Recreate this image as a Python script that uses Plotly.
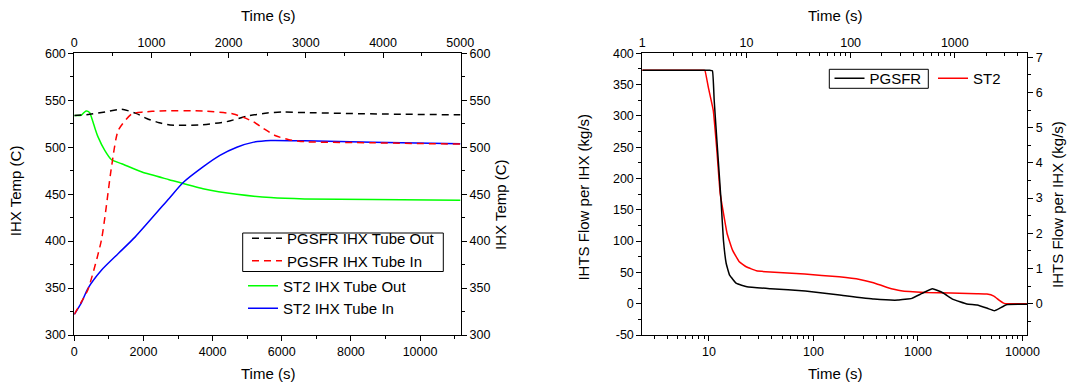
import plotly.graph_objects as go

FONT = "Liberation Sans, Arial, sans-serif"

# ---------------- Left panel: IHX temperatures ----------------
# PGSFR curves use the top time axis (0-5000 s)
pg_out_time = [0, 200, 400, 614, 800, 938, 1100, 1240, 1628, 1974, 2234, 2500, 2700, 3000, 4000, 5000]
pg_out_temp = [533.7, 535, 537.5, 540.4, 536, 530.6, 526, 523.7, 523.7, 527.2, 533, 536.5, 537.5, 536.8, 535.3, 534.5]

pg_in_time = [0, 83, 175, 351, 482, 570, 743, 894, 1110, 1671, 2060, 2319, 2450, 2600, 2780, 3000, 3860, 5000]
pg_in_temp = [322, 334, 348, 401, 479, 518, 535.4, 537.5, 538.6, 538.6, 535.4, 527.2, 520, 512.5, 508, 505.8, 504.7, 503.3]

# ST2 curves use the bottom time axis (0-11000 s)
st2_out_time = [0, 196, 338, 441, 539, 599, 686, 881, 1077, 1371, 1959, 2742, 3722, 4701, 5681, 6660, 8619, 11165]
st2_out_temp = [533.7, 534, 538.6, 537, 527, 520, 511, 496.6, 486.6, 482.4, 473.5, 465.4, 455.8, 449.8, 446.3, 444.9, 444.2, 443.5]

st2_in_time = [0, 196, 392, 784, 1273, 1763, 2742, 3134, 3722, 4211, 4701, 5191, 5681, 6660, 8619, 11165]
st2_in_temp = [322, 333.6, 349.5, 369, 386.8, 404.5, 445.5, 461.9, 479, 491.3, 500, 505.4, 507.2, 506.8, 505.4, 503.7]

temp_ticks = [300, 350, 400, 450, 500, 550, 600]
bottom_left_ticks = [0, 2000, 4000, 6000, 8000, 10000]
bottom_left_labels = ["0", "2000", "4000", "6000", "8000", "10000"]
top_left_ticks = [0, 1000, 2000, 3000, 4000, 5000]
top_left_labels = ["0", "1000", "2000", "3000", "4000", "5000"]

# ---------------- Right panel: IHTS flow ----------------
# PGSFR flow (kg/s, left axis) vs top log time axis
pg_flow_time = [1, 4.2, 4.43, 4.71, 4.9, 5.28, 5.7, 6.01, 6.39, 6.89, 8.02, 10.1, 17.1, 36.7, 78.4, 167.6,
                285, 387, 486, 610, 766, 962, 1305, 1640, 2057, 2397, 2686, 3126, 4968]
pg_flow = [373, 373, 373, 372, 324.6, 244.9, 165, 101.4, 64.2, 45.6, 32.3, 27, 23.9, 20.2, 13.8, 7.4,
           5.8, 8.5, 16.5, 23.9, 17.5, 6.9, -0.5, -2.1, -7.4, -11.2, -7.4, -1.6, -1]

# ST2 flow (kg/s, right axis) vs bottom log time axis
st2_flow_time = [2.26, 8.7, 9.13, 9.85, 11.0, 11.9, 12.8, 13.6, 14.9, 16.8, 19.5, 22.7, 28.5, 38.5, 82.3,
                 176, 277, 375, 508, 688, 1169, 3646, 4571, 5320, 5966, 6687, 11020]
st2_flow = [6.631, 6.631, 6.631, 6.148, 5.486, 4.354, 3.125, 2.654, 1.993, 1.52, 1.191, 1.049, 0.935, 0.898, 0.841,
            0.764, 0.69, 0.596, 0.462, 0.368, 0.32, 0.283, 0.274, 0.217, 0.103, 0.009, 0.0]

flow_ticks = [-50, 0, 50, 100, 150, 200, 250, 300, 350, 400]
flow_tick_labels = ["-50", "0", "50", "100", "150", "200", "250", "300", "350", "400"]
st2_flow_ticks = [0, 1, 2, 3, 4, 5, 6, 7]
bottom_log_ticks = [10, 100, 1000, 10000]
bottom_log_labels = ["10", "100", "1000", "10000"]
top_log_ticks = [1, 10, 100, 1000]
top_log_labels = ["1", "10", "100", "1000"]

W, H = 1070, 385


def px_x(v):
    return v / W


def px_y(v):
    return 1 - v / H


L_DOM = [px_x(74.3), px_x(461)]
R_DOM = [px_x(642.3), px_x(1027.3)]
Y_DOM = [px_y(335), px_y(53.3)]

tickfont = dict(family=FONT, size=12.5, color="black")
line_w = 1.5
dash = "7px,5px"

fig = go.Figure()

fig.add_trace(go.Scatter(x=pg_out_time, y=pg_out_temp, xaxis="x2", yaxis="y", mode="lines",
                         name="PGSFR IHX Tube Out", legend="legend",
                         line=dict(color="black", width=line_w, dash=dash, shape="spline", smoothing=0.6)))
fig.add_trace(go.Scatter(x=pg_in_time, y=pg_in_temp, xaxis="x2", yaxis="y", mode="lines",
                         name="PGSFR IHX Tube In", legend="legend",
                         line=dict(color="#ff0000", width=line_w, dash=dash, shape="spline", smoothing=0.6)))
fig.add_trace(go.Scatter(x=st2_out_time, y=st2_out_temp, xaxis="x", yaxis="y2", mode="lines",
                         name="ST2 IHX Tube Out", legend="legend2",
                         line=dict(color="#00ff00", width=line_w, shape="spline", smoothing=0.6)))
fig.add_trace(go.Scatter(x=st2_in_time, y=st2_in_temp, xaxis="x", yaxis="y2", mode="lines",
                         name="ST2 IHX Tube In", legend="legend2",
                         line=dict(color="#0000ff", width=line_w, shape="spline", smoothing=0.6)))

fig.add_trace(go.Scatter(x=pg_flow_time, y=pg_flow, xaxis="x4", yaxis="y3", mode="lines",
                         name="PGSFR", legend="legend3",
                         line=dict(color="black", width=line_w, shape="spline", smoothing=0.3)))
fig.add_trace(go.Scatter(x=st2_flow_time, y=st2_flow, xaxis="x3", yaxis="y4", mode="lines",
                         name="ST2", legend="legend4",
                         line=dict(color="#ff0000", width=line_w, shape="spline", smoothing=0.3)))

common = dict(showgrid=False, zeroline=False, showline=True, linecolor="black", linewidth=1,
              tickfont=tickfont, tickcolor="black", ticklen=5, tickwidth=1, automargin=False)

legfont = dict(family=FONT, size=15, color="black")

fig.update_layout(
    width=W, height=H,
    margin=dict(l=0, r=0, t=0, b=0),
    paper_bgcolor="white", plot_bgcolor="rgba(0,0,0,0)",
    showlegend=True,
    xaxis=dict(domain=L_DOM, anchor="y", range=[0, 11185], tickmode="array", tickvals=bottom_left_ticks,
               ticktext=bottom_left_labels, ticks="outside",
               minor=dict(tickmode="linear", tick0=0, dtick=1000, ticks="outside", ticklen=3, tickcolor="black"),
               **common),
    xaxis2=dict(overlaying="x", side="top", anchor="y", range=[0, 5010], tickmode="array",
                tickvals=top_left_ticks, ticktext=top_left_labels, ticks="inside",
                minor=dict(tickmode="linear", tick0=0, dtick=500, ticks="inside", ticklen=3, tickcolor="black"),
                **common),
    yaxis=dict(domain=Y_DOM, anchor="x", range=[300, 600], tickmode="array", tickvals=temp_ticks,
               ticks="outside",
               minor=dict(tickmode="linear", tick0=300, dtick=25, ticks="outside", ticklen=3, tickcolor="black"),
               **common),
    yaxis2=dict(overlaying="y", side="right", anchor="x", range=[300, 600], tickmode="array",
                tickvals=temp_ticks, ticks="outside",
                minor=dict(tickmode="linear", tick0=300, dtick=25, ticks="outside", ticklen=3, tickcolor="black"),
                **common),
    xaxis3=dict(domain=R_DOM, anchor="y3", type="log", range=[0.362, 4.046], tickmode="array",
                tickvals=bottom_log_ticks, ticktext=bottom_log_labels, ticks="outside",
                minor=dict(dtick="D1", ticks="outside", ticklen=3, tickcolor="black"),
                **common),
    xaxis4=dict(overlaying="x3", side="top", anchor="y3", type="log", range=[0, 3.696], tickmode="array",
                tickvals=top_log_ticks, ticktext=top_log_labels, ticks="inside",
                minor=dict(dtick="D1", ticks="inside", ticklen=3, tickcolor="black"),
                **common),
    yaxis3=dict(domain=Y_DOM, anchor="x3", range=[-50, 400], tickmode="array", tickvals=flow_ticks,
                ticktext=flow_tick_labels, ticks="outside",
                minor=dict(tickmode="linear", tick0=-50, dtick=25, ticks="outside", ticklen=3, tickcolor="black"),
                **common),
    yaxis4=dict(overlaying="y3", side="right", anchor="x3", range=[-50 / 56.25, 400 / 56.25],
                tickmode="array", tickvals=st2_flow_ticks, ticks="outside",
                minor=dict(tickmode="linear", tick0=0, dtick=0.5, ticks="outside", ticklen=3, tickcolor="black"),
                **common),
    legend=dict(x=px_x(247), y=px_y(222), xanchor="left", yanchor="top", borderwidth=0,
                bgcolor="rgba(255,255,255,0)", font=legfont, tracegroupgap=0),
    legend2=dict(x=px_x(243), y=px_y(269.5), xanchor="left", yanchor="top", borderwidth=0,
                 bgcolor="rgba(255,255,255,0)", font=legfont, tracegroupgap=0),
    legend3=dict(x=px_x(829.5), y=px_y(62), xanchor="left", yanchor="top", borderwidth=0,
                 bgcolor="rgba(255,255,255,0)", font=legfont),
    legend4=dict(x=px_x(933), y=px_y(62), xanchor="left", yanchor="top", borderwidth=0,
                 bgcolor="rgba(255,255,255,0)", font=legfont),
)

# legend frames (the PGSFR legend entries are boxed in the original)
for x0, x1, y0, y1 in [(242.7, 443.3, 233.0, 271.5), (829.3, 928.3, 69.3, 88.3)]:
    fig.add_shape(type="rect", xref="paper", yref="paper",
                  x0=px_x(x0), x1=px_x(x1), y0=px_y(y1), y1=px_y(y0),
                  line=dict(color="black", width=1), fillcolor="rgba(0,0,0,0)", layer="above")

title_font = dict(family=FONT, size=15, color="black")
titles = [
    ("Time (s)", 267.7, 15, 0),
    ("Time (s)", 267.7, 373, 0),
    ("IHX Temp (C)", 15.2, 191, -90),
    ("IHX Temp (C)", 501, 205, -90),
    ("Time (s)", 834.8, 15, 0),
    ("Time (s)", 834.8, 373, 0),
    ("IHTS Flow per IHX (kg/s)", 583.6, 197, -90),
    ("IHTS Flow per IHX (kg/s)", 1057.9, 204, -90),
]
for text, x, y, ang in titles:
    fig.add_annotation(text=text, x=px_x(x), y=px_y(y), xref="paper", yref="paper",
                       xanchor="center", yanchor="middle", showarrow=False, textangle=ang,
                       font=title_font)

fig.write_html("out.html")
